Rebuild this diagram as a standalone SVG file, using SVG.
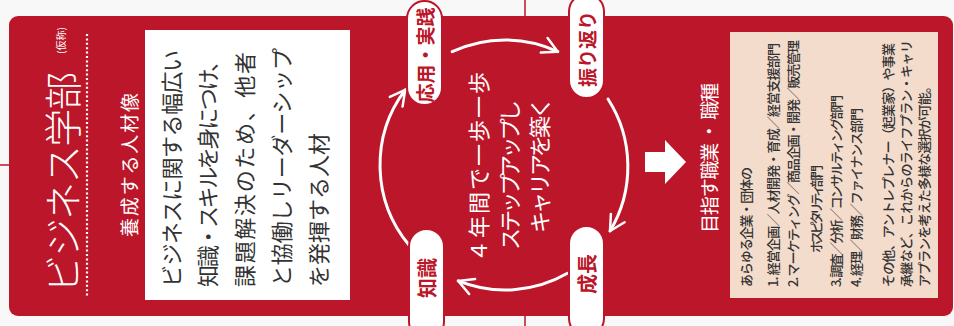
<svg xmlns="http://www.w3.org/2000/svg" width="954" height="326" viewBox="0 0 954 326">
<defs>
<style>
.jp{font-family:"Noto Sans CJK JP","Noto Sans",sans-serif;}
.w{fill:#ffffff;}
.dk{fill:#333333;}
.red{fill:#bb1629;}
.pill{fill:#ffffff;stroke:#bb1629;stroke-width:2;}
.arc{fill:none;stroke:#ffffff;stroke-width:3;stroke-linecap:round;}
.guide{stroke:#bb1629;stroke-width:1.5;}
</style>
<marker id="ah" markerUnits="userSpaceOnUse" markerWidth="30" markerHeight="30" viewBox="-20 -15 30 30" refX="0" refY="0" orient="auto">
<path d="M-15,-8 L0,0 L-15,8" fill="none" stroke="#ffffff" stroke-width="2.5" stroke-linecap="round" stroke-linejoin="round"/>
</marker>
</defs>
<rect x="0" y="0" width="954" height="326" fill="#f8f8f8"/>
<line class="guide" x1="525" y1="0" x2="525" y2="17"/>
<line class="guide" x1="525" y1="315" x2="525" y2="326"/>
<line class="guide" x1="0" y1="165" x2="10" y2="165"/>
<rect id="panel" x="9" y="16" width="944" height="300" rx="9" fill="#bb1629"/>

<g id="left-title">
<text class="jp w" font-size="38" font-weight="300" dominant-baseline="central" transform="translate(60,293) rotate(-90)" textLength="221">ビジネス学部</text>
<text class="jp w" font-size="10" dominant-baseline="central" transform="translate(60,54) rotate(-90)">(仮称)</text>
<line x1="87" y1="34" x2="87" y2="298" stroke="#ffffff" stroke-width="2.2" stroke-dasharray="2 2.4"/>
<text class="jp w" font-size="19" dominant-baseline="central" transform="translate(128,237) rotate(-90)" textLength="144">養成する人材像</text>
</g>

<g id="ideal-person">
<rect x="145" y="30" width="205" height="270" fill="#ffffff"/>
<g class="jp dk" font-size="22" dominant-baseline="central">
<text transform="translate(170,287) rotate(-90)" textLength="237">ビジネスに関する幅広い</text>
<text transform="translate(206,287) rotate(-90)" textLength="237">知識・スキルを身につけ、</text>
<text transform="translate(243,287) rotate(-90)" textLength="235">課題解決のため、他者</text>
<text transform="translate(280,287) rotate(-90)" textLength="239">と協働しリーダーシップ</text>
<text transform="translate(317,287) rotate(-90)" textLength="154">を発揮する人材</text>
</g>
</g>

<g id="connectors">
<path class="arc" d="M409.2,245.3 A125,125 0 0 1 405.2,89.8" marker-end="url(#ah)"/>
<path class="arc" d="M452.2,51.7 A125,125 0 0 1 557.8,51.7" marker-end="url(#ah)"/>
<path class="arc" d="M608,99 A125,125 0 0 1 610,231" marker-end="url(#ah)"/>
<path class="arc" d="M567.5,273.3 A125,125 0 0 1 458.2,280.9" marker-end="url(#ah)"/>
</g>

<g id="node-apply">
<rect class="pill" x="407" y="1" width="35" height="104" rx="17.5"/>
<text class="jp red" font-size="19" font-weight="700" text-anchor="middle" dominant-baseline="central" transform="translate(424.5,55) rotate(-90)">応用・実践</text>
</g>
<g id="node-reflect">
<rect class="pill" x="569" y="-6" width="35" height="104" rx="17.5"/>
<text class="jp red" font-size="19" font-weight="700" text-anchor="middle" dominant-baseline="central" transform="translate(586.5,49) rotate(-90)">振り返り</text>
</g>
<g id="node-knowledge">
<rect class="pill" x="409" y="229" width="35" height="110" rx="17.5"/>
<text class="jp red" font-size="20" font-weight="700" text-anchor="middle" dominant-baseline="central" transform="translate(426.5,278) rotate(-90)">知識</text>
</g>
<g id="node-growth">
<rect class="pill" x="569" y="226" width="35" height="110" rx="17.5"/>
<text class="jp red" font-size="20" font-weight="700" text-anchor="middle" dominant-baseline="central" transform="translate(586.5,274) rotate(-90)">成長</text>
</g>

<g id="center-text" class="jp w" font-size="22" dominant-baseline="central">
<text transform="translate(477,262) rotate(-90)" textLength="190">４年間で一歩一歩</text>
<text transform="translate(508,250) rotate(-90)" textLength="150">ステップアップし</text>
<text transform="translate(538,233) rotate(-90)" textLength="136">キャリアを築く</text>
</g>

<g id="arrow">
<polygon points="645,152 665,152 665,140 686,162 665,184 665,172 645,172" fill="#ffffff"/>
</g>

<g id="career-title">
<text class="jp w" font-size="19" dominant-baseline="central" transform="translate(708,233) rotate(-90)" textLength="150">目指す職業 ・ 職種</text>
</g>

<g id="careers">
<rect x="730" y="32" width="208" height="266" fill="#f4dccc"/>
<g class="jp dk" font-size="13" font-weight="500" dominant-baseline="central">
<text transform="translate(745,287) rotate(-90)" textLength="120">あらゆる企業・団体の</text>
<text transform="translate(772,287) rotate(-90)" textLength="244">1. 経営企画／人材開発・育成／経営支援部門</text>
<text transform="translate(792,287) rotate(-90)" textLength="247">2. マーケティング／商品企画・開発／販売管理</text>
<text transform="translate(815,253) rotate(-90)" textLength="88">ホスピタリティ部門</text>
<text transform="translate(835,287) rotate(-90)" textLength="192">3. 調査／分析／コンサルティング部門</text>
<text transform="translate(855,287) rotate(-90)" textLength="179">4. 経理／財務／ファイナンス部門</text>
<text transform="translate(887,287) rotate(-90)" textLength="244">その他、アントレプレナー（起業家）や事業</text>
<text transform="translate(905,287) rotate(-90)" textLength="247">承継など、これからのライフプラン・キャリ</text>
<text transform="translate(923,287) rotate(-90)" textLength="207">アプランを考えた多様な選択が可能。</text>
</g>
</g>
</svg>
